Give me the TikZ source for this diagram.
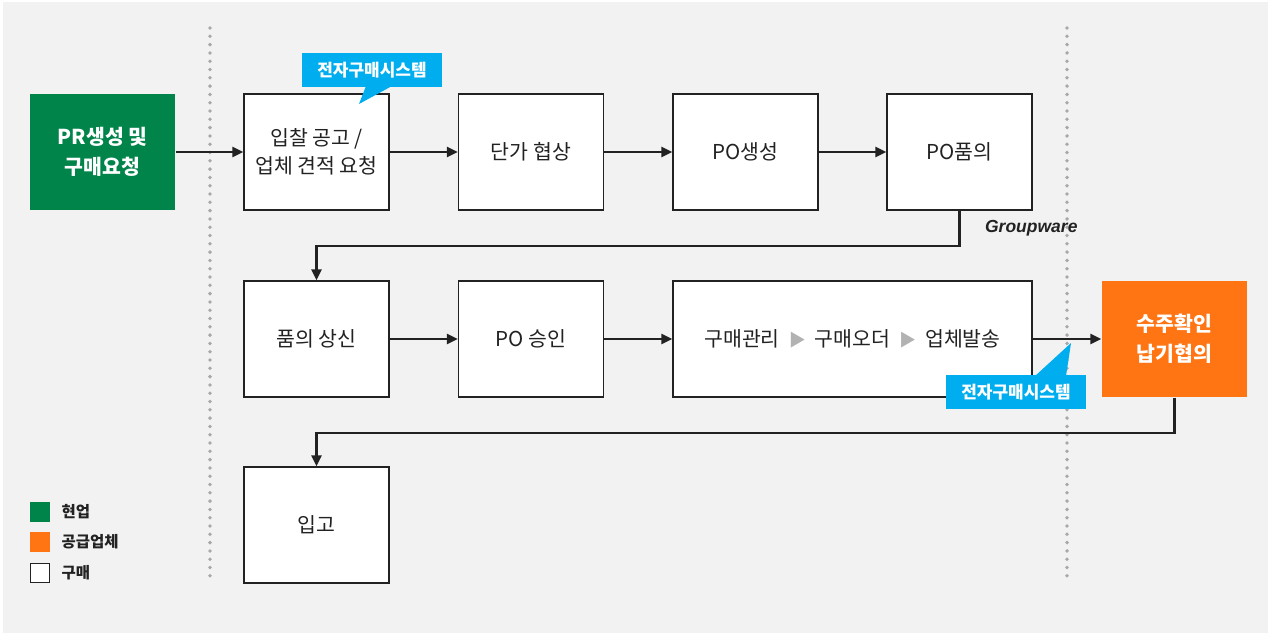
\documentclass[tikz,border=0pt]{standalone}
\usepackage{fontspec}
\usepackage{xcolor}
\usepackage{tikz}
\usetikzlibrary{arrows.meta,positioning}
\setmainfont{Noto Sans CJK KR}
\newfontfamily\latinfont{Liberation Sans}

\definecolor{bggray}{HTML}{F2F2F2}
\definecolor{hgreen}{HTML}{00844A}
\definecolor{sorange}{HTML}{FF7413}
\definecolor{eblue}{HTML}{00AEEF}
\definecolor{dotgray}{HTML}{A8A8A8}
\definecolor{ink}{HTML}{222222}
\newcommand{\nextstep}{\hspace{9pt}{\fontsize{17}{20}\selectfont\color{black!30}▶}\hspace{9pt}}

\begin{document}
\begin{tikzpicture}[x=1pt,y=-1pt,
    box/.style={draw=ink, fill=white, line width=1.3pt, minimum width=145pt, minimum height=116pt,
        inner sep=0pt, align=center, text=ink, font=\fontsize{20.5}{28}\selectfont},
    hbox/.style={box, draw=none, fill=hgreen, text=white, font=\fontsize{20.5}{30}\selectfont\bfseries},
    sbox/.style={box, draw=none, fill=sorange, text=white, font=\fontsize{20.5}{30}\selectfont\bfseries},
    callout/.style={fill=eblue, text=white, minimum width=140pt, minimum height=34pt, inner sep=0pt,
        font=\fontsize{17}{20}\selectfont\bfseries},
    arr/.style={draw=ink, line width=2.2pt, -{Triangle[length=11pt,width=10pt]}},
    sep/.style={dotgray, line width=3.8pt, line cap=round, dash pattern=on 0pt off 8.3pt},
    key/.style={minimum width=20pt, minimum height=20pt, inner sep=0pt},
    keytext/.style={anchor=west, text=ink, font=\fontsize{15.5}{18}\selectfont\bfseries}]

\useasboundingbox (0,0) rectangle (1268,633);
\fill[bggray] (3,2) rectangle (1268,633);

% separators
\draw[sep] (210,28) -- (210,576);
\draw[sep] (1067,28) -- (1067,576);

% first row
\node[hbox] (pr) at (102.5,152) {PR생성 및\\구매요청};
\node[box] (bid) at (316.5,152) {입찰 공고 /\\업체 견적 요청};
\node[box] (nego) at (531,152) {단가 협상};
\node[box] (pocr) at (745.5,152) {PO생성};
\node[box] (popm) at (959.5,152) {PO품의};

% second row
\node[box] (sangsin) at (316.5,339) {품의 상신};
\node[box] (poapp) at (531,339) {PO 승인};
\node[box, minimum width=359pt] (order) at (852.5,339) {구매관리\nextstep 구매오더\nextstep 업체발송};
\node[sbox] (supp) at (1174.5,339) {수주확인\\납기협의};

% third row
\node[box] (ipgo) at (316.5,525) {입고};

% callouts
\node[callout] (es1) at (372,70) {전자구매시스템};
\fill[eblue] (366,86) -- (392,86) -- (359,104) -- cycle;
\node[callout] (es2) at (1016,392) {전자구매시스템};
\fill[eblue] (1035,376) -- (1066,376) -- (1071,343) -- cycle;

\node[anchor=east, text=ink, font=\latinfont\fontsize{17.5}{20}\selectfont\bfseries\itshape] (gw) at (1081,228) {Groupware};

% draw the arrows
\draw[arr] (pr) -- (bid);
\draw[arr] (bid) -- (nego);
\draw[arr] (nego) -- (pocr);
\draw[arr] (pocr) -- (popm);
\draw[arr] (popm.south) -- ++(0,35) -| (sangsin.north);
\draw[arr] (sangsin) -- (poapp);
\draw[arr] (poapp) -- (order);
\draw[arr] (order) -- (supp);
\draw[arr] (supp.south) -- ++(0,35) -| (ipgo.north);

% legend
\node[key, fill=hgreen] (k1) at (40,512) {};
\node[key, fill=sorange] (k2) at (40,542) {};
\node[key, fill=white, draw=ink, line width=1pt, minimum width=19pt, minimum height=19pt] (k3) at (40,573) {};
\node[keytext] at (58,512) {현업};
\node[keytext] at (58,542) {공급업체};
\node[keytext] at (58,573) {구매};

\end{tikzpicture}
\end{document}
